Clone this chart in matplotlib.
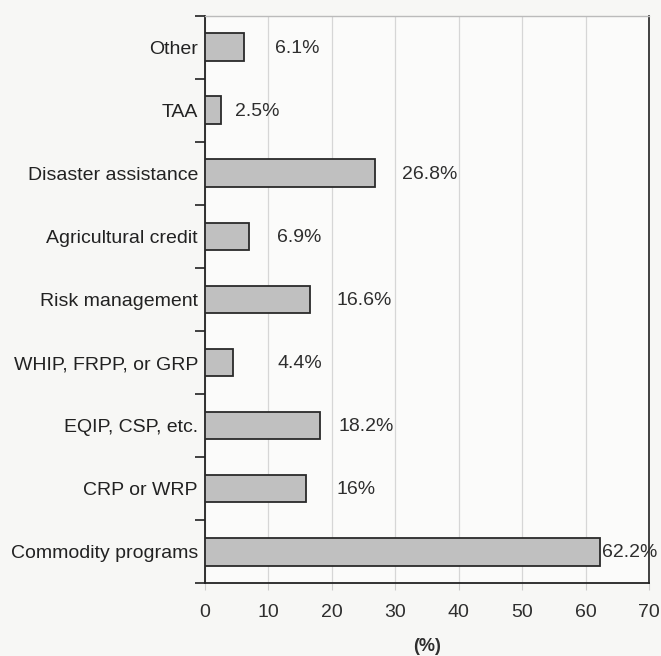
import matplotlib.pyplot as plt
import numpy as np

plt.rcParams['font.family'] = ['Liberation Sans', 'DejaVu Sans']

# 各项目所占比例 (%)
categories = ["Commodity programs", "CRP or WRP", "EQIP, CSP, etc.",
              "WHIP, FRPP, or GRP", "Risk management", "Agricultural credit",
              "Disaster assistance", "TAA", "Other"]
values = [62.2, 16, 18.2, 4.4, 16.6, 6.9, 26.8, 2.5, 6.1]
value_labels = ["62.2%", "16%", "18.2%", "4.4%", "16.6%", "6.9%", "26.8%", "2.5%", "6.1%"]
# 数值标签的横向位置
label_x = [62.5, 20.8, 21.0, 11.4, 20.8, 11.4, 31.1, 4.7, 11.0]

fig = plt.figure(figsize=(6.61, 6.56), dpi=100)
fig.patch.set_facecolor('#f7f7f5')
ax = fig.add_axes([0.310, 0.111, 0.672, 0.865])
ax.set_facecolor('#fbfbfa')

y = np.arange(len(categories))
ax.barh(y, values, height=0.44, color='#c0c0c0', edgecolor='#2a2a2a', linewidth=1.3, zorder=3)

for yi, lx, lab in zip(y, label_x, value_labels):
    ax.text(lx, yi - 0.02, lab, va='center', ha='left', fontsize=14, color='#2e2e2e', zorder=4)

ax.set_xlim(0, 70)
ax.set_ylim(-0.5, len(categories) - 0.5)
ax.set_xticks(np.arange(0, 71, 10))
ax.set_yticks(y)
ax.set_yticklabels(categories, fontsize=14, color='#222222')
ax.set_yticks(np.arange(-0.5, len(categories), 1), minor=True)
ax.tick_params(axis='y', which='major', length=0, pad=5)
ax.tick_params(axis='y', which='minor', length=7, width=1.2, color='#222222')
ax.tick_params(axis='x', length=5, color='#cccccc', labelsize=14, labelcolor='#2e2e2e', pad=10)

ax.grid(axis='x', color='#d6d6d6', linewidth=0.9, zorder=0)

ax.spines['left'].set_linewidth(1.3)
ax.spines['left'].set_color('#222222')
ax.spines['bottom'].set_linewidth(1.3)
ax.spines['bottom'].set_color('#222222')
ax.spines['right'].set_linewidth(1.3)
ax.spines['right'].set_color('#333333')
ax.spines['top'].set_linewidth(1.0)
ax.spines['top'].set_color('#bbbbbb')

ax.set_xlabel("(%)", fontsize=13, fontweight='bold', color='#2e2e2e', labelpad=12)

plt.savefig("out.png", dpi=100, facecolor=fig.get_facecolor())
